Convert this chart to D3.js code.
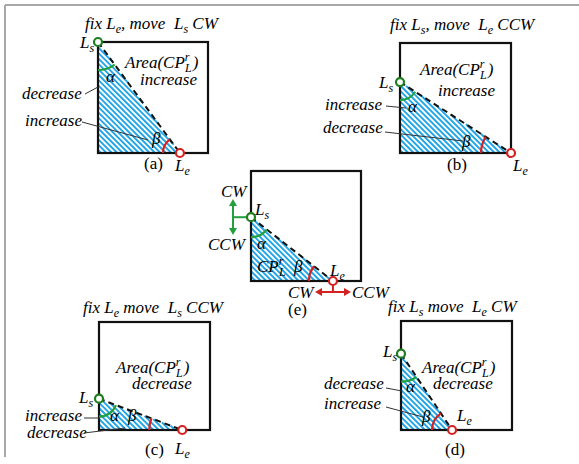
<!DOCTYPE html>
<html><head><meta charset="utf-8">
<script src="https://cdn.jsdelivr.net/npm/d3@7"></script>
</head><body style="margin:0;background:#fff">
<svg id="c" width="579" height="464"></svg>
<script>
// ---- data ----
const panelIds   = ["a", "b", "e", "c", "d"];
const lsHeight   = [1.00, 0.645, 0.58, 0.29, 0.70];   // Ls position up the left side (fraction of side)
const leWidth    = [0.745, 1.00, 0.745, 0.75, 0.46];  // Le position along the bottom (fraction of side)
const titles     = [
  ["fix ", ["L","e"], ", move  ", ["L","s"], " CW"],
  ["fix ", ["L","s"], ", move  ", ["L","e"], " CCW"],
  null,
  ["fix ", ["L","e"], " move  ", ["L","s"], " CCW"],
  ["fix ", ["L","s"], " move  ", ["L","e"], " CW"]
];
const areaTrend  = ["increase", "increase", null, "decrease", "decrease"];
const alphaTrend = ["decrease", "increase", null, "increase", "decrease"];
const betaTrend  = ["increase", "decrease", null, "decrease", "increase"];

// ---- layout ----
const layout = {
  a:{x0:98,y0:42,x1:208,y1:153, rA:28,rB:17,
     title:[85,29], ls:[80,48], area:[125,68], trend:[140,85], al:[106,82], be:[152,144], cap:[144,169], le:[175,171],
     t1:[22,99], t2:[25,126], l1:[[85,94],[98,87]], l2:[[82,122],[148,140]]},
  b:{x0:400,y0:43,x1:511,y1:153, rA:18,rB:30,
     title:[390,30], ls:[379,88], area:[420,75], trend:[438,96], al:[408,112], be:[462,147], cap:[447,170], le:[513,171],
     t1:[325,110], t2:[323,133], l1:[[386,106],[406,108]], l2:[[385,132],[463,141]]},
  e:{x0:251,y0:171,x1:361,y1:281, rA:20,rB:24,
     ls:[255,215], al:[257,249], be:[294,272], cap:[288,315], le:[330,276]},
  c:{x0:99,y0:322,x1:210,y1:430, rA:18,rB:33,
     title:[83,313], ls:[79,403], area:[116,373], trend:[132,389], al:[110,421], be:[128,421], cap:[145,455], le:[175,454],
     t1:[25,421], t2:[27,438], l1:[[84,418],[100,418]], l2:[[84,433],[125,428]]},
  d:{x0:401,y0:321,x1:512,y1:430, rA:28,rB:20,
     title:[388,312], ls:[383,357], area:[422,373], trend:[433,389], al:[406,392], be:[422,422], cap:[445,455], le:[457,421],
     t1:[324,389], t2:[324,409], l1:[[386,388],[402,391]], l2:[[386,407],[423,417]]}
};
const GREEN = "#22a040", GREEN_D = "#1e7d1e", RED = "#d42222", HATCH = "#22a6e8";
const FONT = "Liberation Serif";

const svg = d3.select("#c");

svg.append("line").attr("x1",5).attr("y1",5).attr("x2",579).attr("y2",5).attr("stroke","#a8a8a8").attr("stroke-width",2);
svg.append("line").attr("x1",5).attr("y1",5).attr("x2",5).attr("y2",457).attr("stroke","#a8a8a8").attr("stroke-width",2);

function txt(g, x, y, italic){
  return g.append("text").attr("x",x).attr("y",y).attr("font-family",FONT).attr("font-size",17)
    .attr("font-style", italic===false ? "normal" : "italic");
}
function sub(g, x, y, base, s){
  const el = txt(g, x, y);
  el.append("tspan").text(base);
  el.append("tspan").attr("font-size",12).attr("dy",4).text(s);
  return el;
}
function rich(g, x, y, parts){
  const el = txt(g, x, y).style("white-space","pre");
  let shifted = 0;
  parts.forEach(p=>{
    if (typeof p === "string"){ el.append("tspan").attr("dy",-shifted).text(p); shifted = 0; }
    else { el.append("tspan").attr("dy",-shifted).text(p[0]);
           el.append("tspan").attr("font-size",12).attr("dy",4).text(p[1]); shifted = 4; }
  });
  return el;
}
function cpl(el){
  el.append("tspan").text("CP");
  el.append("tspan").attr("font-size",12).attr("dy",-7).text("r");
  el.append("tspan").attr("font-size",12).attr("dx",-4.5).attr("dy",11).text("L");
}
function head(g, tip, dir, color){
  const [ux,uy] = dir, px = -uy, py = ux;
  const b = [tip[0]-ux*7, tip[1]-uy*7];
  g.append("path").attr("d", d3.line()([tip, [b[0]+px*4,b[1]+py*4], [b[0]-px*4,b[1]-py*4]]) + "Z").attr("fill",color);
}
// hatch lines y = x + c clipped to the right triangle (corner, Ls, Le)
function hatch(g, ls, corner, le){
  const x0 = corner[0], yb = corner[1], ys = ls[1], xe = le[0];
  const m = (yb - ys) / (xe - x0);
  const segs = [];
  for (let c = ys - xe - 10; c <= yb - x0; c += 5.4){
    let lo = x0, hi = Math.min(xe, yb - c);
    const k = ys - m*x0 - c;
    if (Math.abs(1-m) < 1e-6){ if (k > 0) continue; }
    else if (m < 1) lo = Math.max(lo, k/(1-m));
    else hi = Math.min(hi, k/(1-m));
    if (hi > lo) segs.push([[lo, lo + c], [hi, hi + c]]);
  }
  g.append("path").attr("d", segs.map(s=>d3.line()(s)).join(""))
    .attr("stroke",HATCH).attr("stroke-width",1.9).attr("fill","none");
}

panelIds.forEach((id,i)=>{
  const L = layout[id];
  const g = svg.append("g");
  const xs = d3.scaleLinear().domain([0,1]).range([L.x0,L.x1]);
  const ys = d3.scaleLinear().domain([0,1]).range([L.y1,L.y0]);
  const ls = [xs(0), ys(lsHeight[i])];
  const le = [xs(leWidth[i]), ys(0)];
  const corner = [xs(0), ys(0)];

  hatch(g, ls, corner, le);
  g.append("rect").attr("x",xs(0)).attr("y",ys(1)).attr("width",xs(1)-xs(0)).attr("height",ys(0)-ys(1))
    .attr("fill","none").attr("stroke","#111").attr("stroke-width",2.2);
  g.append("line").attr("x1",ls[0]).attr("y1",ls[1]).attr("x2",le[0]).attr("y2",le[1])
    .attr("stroke","#111").attr("stroke-width",2).attr("stroke-dasharray","6,4");

  const dx = le[0]-ls[0], dy = le[1]-ls[1];
  const angLs = Math.atan2(dx, -dy);
  const angLe = Math.atan2(-dx, dy);
  g.append("path").attr("transform",`translate(${ls})`)
    .attr("d", d3.arc().innerRadius(L.rA).outerRadius(L.rA).startAngle(angLs).endAngle(Math.PI)())
    .attr("fill","none").attr("stroke",GREEN).attr("stroke-width",2.2);
  g.append("path").attr("transform",`translate(${le})`)
    .attr("d", d3.arc().innerRadius(L.rB).outerRadius(L.rB).startAngle(-Math.PI/2).endAngle(angLe)())
    .attr("fill","none").attr("stroke",RED).attr("stroke-width",2.2);

  if (id === "e"){
    g.append("line").attr("x1",ls[0]).attr("y1",ls[1]).attr("x2",233).attr("y2",ls[1]).attr("stroke",GREEN).attr("stroke-width",2);
    g.append("line").attr("x1",233).attr("y1",205).attr("x2",233).attr("y2",229).attr("stroke",GREEN).attr("stroke-width",2);
    head(g, [233,199], [0,-1], GREEN);
    head(g, [233,235], [0,1], GREEN);
    g.append("line").attr("x1",le[0]).attr("y1",le[1]).attr("x2",le[0]).attr("y2",292).attr("stroke",RED).attr("stroke-width",2);
    g.append("line").attr("x1",321).attr("y1",292).attr("x2",345).attr("y2",292).attr("stroke",RED).attr("stroke-width",2);
    head(g, [315,292], [-1,0], RED);
    head(g, [351,292], [1,0], RED);
    txt(g,221,197).text("CW");
    txt(g,208,250).text("CCW");
    txt(g,288,298).text("CW");
    txt(g,352,298).text("CCW");
    cpl(txt(g,257,272));
  }

  g.append("circle").attr("cx",ls[0]).attr("cy",ls[1]).attr("r",4).attr("fill","#fff").attr("stroke",GREEN_D).attr("stroke-width",2.2);
  g.append("circle").attr("cx",le[0]).attr("cy",le[1]).attr("r",4).attr("fill","#fff").attr("stroke",RED).attr("stroke-width",2.2);

  sub(g, L.ls[0], L.ls[1], "L", "s");
  sub(g, L.le[0], L.le[1], "L", "e");
  txt(g, L.al[0], L.al[1]).text("α");
  txt(g, L.be[0], L.be[1]).text("β");
  txt(g, L.cap[0], L.cap[1], false).text("(" + id + ")");

  if (titles[i]){
    rich(g, L.title[0], L.title[1], titles[i]);
    const ar = txt(g, L.area[0], L.area[1]);
    ar.append("tspan").text("Area(");
    cpl(ar);
    ar.append("tspan").attr("dy",-4).attr("dx",1).text(")");
    txt(g, L.trend[0], L.trend[1]).text(areaTrend[i]);
    txt(g, L.t1[0], L.t1[1]).text(alphaTrend[i]);
    txt(g, L.t2[0], L.t2[1]).text(betaTrend[i]);
    [L.l1, L.l2].forEach(l=>g.append("line").attr("x1",l[0][0]).attr("y1",l[0][1]).attr("x2",l[1][0]).attr("y2",l[1][1])
      .attr("stroke","#333").attr("stroke-width",1));
  }
});
</script></body></html>
